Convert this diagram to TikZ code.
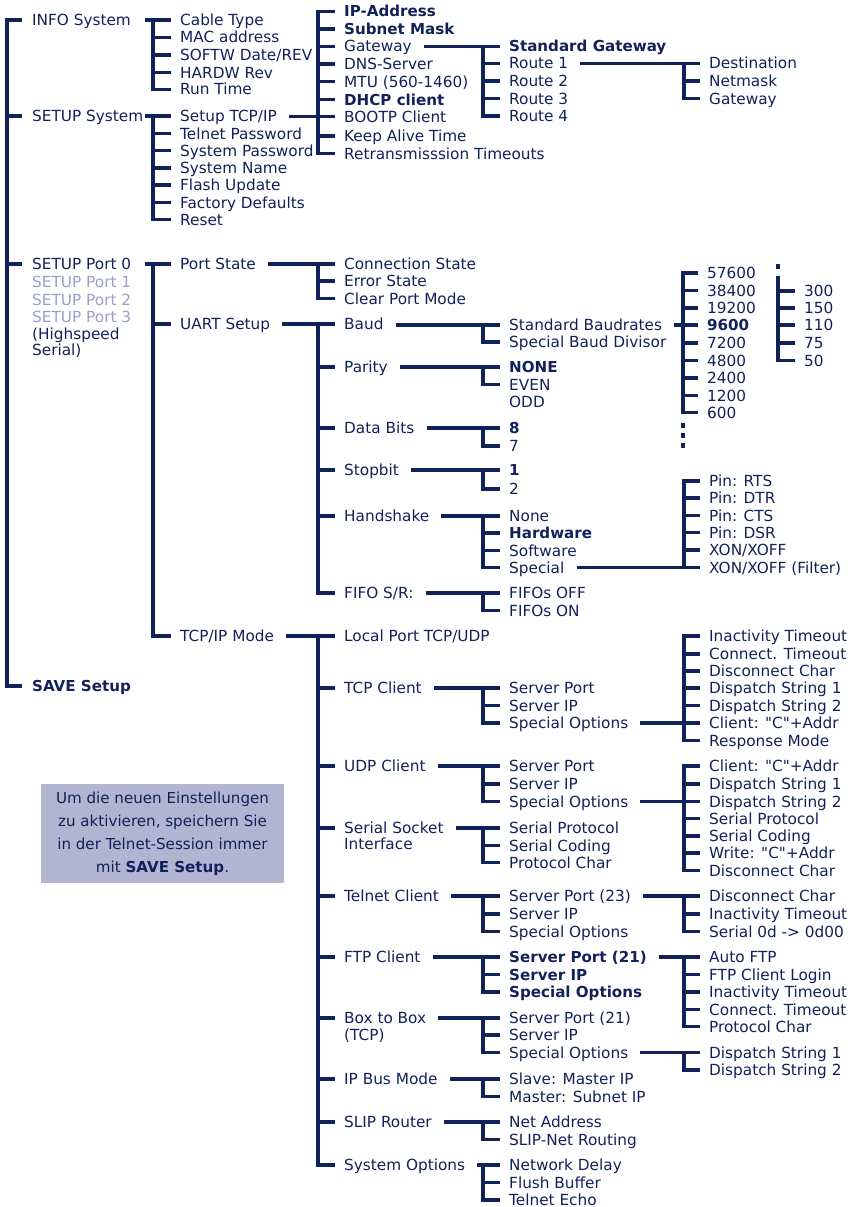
\documentclass[tikz,border=0pt]{standalone}
\usepackage{fontspec}
\setmainfont{DejaVu Sans}
\newfontfamily\dvs{DejaVu Sans}
\usetikzlibrary{calc}
\definecolor{navy}{HTML}{112159}
\definecolor{greyblue}{HTML}{9A9FC6}
\definecolor{boxfill}{HTML}{B1B5D1}
% branch whose horizontal starts just after the parent text
\newcommand\tbranch[6]{%
  \draw[conn] let \p2=(#3.west) in ([xshift=12pt]#1.east |- #3.west) -- ([xshift=-9pt]#3.west);
  \tbranchbody{#2}{#4}{#5}{#6}}
% branch whose horizontal starts just left of the trunk (T shape)
\newcommand\tbranchT[6]{%
  \draw[conn] let \p2=(#3.west) in (#2pt-8pt,\y2) -- ([xshift=-9pt]#3.west);
  \tbranchbody{#2}{#4}{#5}{#6}}
\newcommand\tbranchbody[4]{%
  \draw[conn] let \p1=(#2.west), \p2=(#3.west) in (#1pt,{\y1+1.6pt}) -- (#1pt,{\y2-1.6pt});
  \foreach \c in {#4} {\draw[conn] let \p1=(\c.west) in (#1pt,\y1) -- ([xshift=-9pt]\c.west);}}
\begin{document}
\begin{tikzpicture}[x=1pt,y=-1pt,
  lbl/.style={anchor=west, inner sep=0pt, text height=11pt, text depth=0pt, text=navy, font=\dvs\fontsize{15.3}{17}\selectfont},
  bl/.style={lbl, font=\dvs\fontsize{15.1}{17}\selectfont\bfseries},
  gl/.style={lbl, text=greyblue},
  conn/.style={draw=navy, line width=3.2pt}]
\useasboundingbox (0,0) rectangle (850,1207);
% column 0
\node[lbl] (info) at (32,20) {INFO System};
\node[lbl] (setsys) at (32,116) {SETUP System};
\node[lbl] (port0) at (32,264) {SETUP Port 0};
\node[gl] (port1) at (32,282) {SETUP Port 1};
\node[gl] (port2) at (32,299.5) {SETUP Port 2};
\node[gl] (port3) at (32,317) {SETUP Port 3};
\node[lbl] (hs1) at (32,334) {(Highspeed};
\node[lbl] (hs2) at (32,350) {Serial)};
\node[bl] (save) at (32,686) {SAVE Setup};
% column 1
\node[lbl] (cable) at (180,20) {Cable Type};
\node[lbl] (mac) at (180,37.5) {MAC address};
\node[lbl] (softw) at (180,55) {SOFTW Date/REV};
\node[lbl] (hardw) at (180,72.5) {HARDW Rev};
\node[lbl] (runtime) at (180,89.5) {Run Time};
\node[lbl] (stcp) at (180,116) {Setup TCP/IP};
\node[lbl] (telpw) at (180,133.5) {Telnet Password};
\node[lbl] (syspw) at (180,150.5) {System Password};
\node[lbl] (sysname) at (180,168) {System Name};
\node[lbl] (flash) at (180,185) {Flash Update};
\node[lbl] (factory) at (180,202.5) {Factory Defaults};
\node[lbl] (reset) at (180,219.5) {Reset};
\node[lbl] (portstate) at (180,264) {Port State};
\node[lbl] (uart) at (180,324) {UART Setup};
\node[lbl] (tcpmode) at (180,636) {TCP/IP Mode};
% column 2
\node[bl] (ipaddr) at (344,11.5) {IP-Address};
\node[bl] (subnet) at (344,29) {Subnet Mask};
\node[lbl] (gw) at (344,46.5) {Gateway};
\node[lbl] (dns) at (344,64) {DNS-Server};
\node[lbl] (mtu) at (344,81.5) {MTU (560-1460)};
\node[bl] (dhcp) at (344,99.5) {DHCP client};
\node[lbl] (bootp) at (344,116.5) {BOOTP Client};
\node[lbl] (keep) at (344,136) {Keep Alive Time};
\node[lbl] (retr) at (344,153.5) {Retransmisssion Timeouts};
\node[lbl] (connst) at (344,264) {Connection State};
\node[lbl] (err) at (344,281) {Error State};
\node[lbl] (clr) at (344,298.5) {Clear Port Mode};
\node[lbl] (baud) at (344,324) {Baud};
\node[lbl] (parity) at (344,367) {Parity};
\node[lbl] (databits) at (344,428) {Data Bits};
\node[lbl] (stopbit) at (344,470) {Stopbit};
\node[lbl] (hand) at (344,516) {Handshake};
\node[lbl] (fifo) at (344,593) {FIFO S/R:};
\node[lbl] (local) at (344,636) {Local Port TCP/UDP};
\node[lbl] (tcpc) at (344,688) {TCP Client};
\node[lbl] (udpc) at (344,766) {UDP Client};
\node[lbl] (ssock) at (344,828) {Serial Socket};
\node[lbl] (ssock2) at (344,843.5) {Interface};
\node[lbl] (telc) at (344,896) {Telnet Client};
\node[lbl] (ftpc) at (344,957) {FTP Client};
\node[lbl] (box) at (344,1018) {Box to Box};
\node[lbl] (box2) at (344,1035) {(TCP)};
\node[lbl] (ipbus) at (344,1079) {IP Bus Mode};
\node[lbl] (slip) at (344,1122) {SLIP Router};
\node[lbl] (sysopt) at (344,1165) {System Options};
% column 3
\node[bl] (stdgw) at (509,46.5) {Standard Gateway};
\node[lbl] (r1) at (509,63.5) {Route 1};
\node[lbl] (r2) at (509,81) {Route 2};
\node[lbl] (r3) at (509,98.5) {Route 3};
\node[lbl] (r4) at (509,116) {Route 4};
\node[lbl] (stdbaud) at (509,325) {Standard Baudrates};
\node[lbl] (spbaud) at (509,342) {Special Baud Divisor};
\node[bl] (none) at (509,367) {NONE};
\node[lbl] (even) at (509,384.5) {EVEN};
\node[lbl] (odd) at (509,402) {ODD};
\node[bl] (d8) at (509,428) {8};
\node[lbl] (d7) at (509,446) {7};
\node[bl] (s1) at (509,470) {1};
\node[lbl] (s2) at (509,489) {2};
\node[lbl] (hnone) at (509,516) {None};
\node[bl] (hhw) at (509,533) {Hardware};
\node[lbl] (hsw) at (509,550.5) {Software};
\node[lbl] (hsp) at (509,567.5) {Special};
\node[lbl] (foff) at (509,593) {FIFOs OFF};
\node[lbl] (fon) at (509,610.5) {FIFOs ON};
\node[lbl] (tsp) at (509,688) {Server Port};
\node[lbl] (tsip) at (509,705.5) {Server IP};
\node[lbl] (tsso) at (509,723) {Special Options};
\node[lbl] (usp) at (509,766) {Server Port};
\node[lbl] (usip) at (509,784) {Server IP};
\node[lbl] (usso) at (509,801.5) {Special Options};
\node[lbl] (sprot) at (509,828) {Serial Protocol};
\node[lbl] (scod) at (509,845.5) {Serial Coding};
\node[lbl] (pchar) at (509,862.5) {Protocol Char};
\node[lbl] (tlsp) at (509,896) {Server Port (23)};
\node[lbl] (tlsip) at (509,914) {Server IP};
\node[lbl] (tlso) at (509,931.5) {Special Options};
\node[bl] (fsp) at (509,957) {Server Port (21)};
\node[bl] (fsip) at (509,974.5) {Server IP};
\node[bl] (fso) at (509,992) {Special Options};
\node[lbl] (bsp) at (509,1018) {Server Port (21)};
\node[lbl] (bsip) at (509,1035) {Server IP};
\node[lbl] (bso) at (509,1052.5) {Special Options};
\node[lbl] (slave) at (509,1079) {Slave: Master IP};
\node[lbl] (master) at (509,1096.5) {Master: Subnet IP};
\node[lbl] (netaddr) at (509,1122) {Net Address};
\node[lbl] (sliprt) at (509,1139.5) {SLIP-Net Routing};
\node[lbl] (netdelay) at (509,1165) {Network Delay};
\node[lbl] (flush) at (509,1182.5) {Flush Buffer};
\node[lbl] (techo) at (509,1200) {Telnet Echo};
% column 4
\node[lbl] (dest) at (709,63.5) {Destination};
\node[lbl] (netmask) at (709,81) {Netmask};
\node[lbl] (gw2) at (709,98.5) {Gateway};
\node[lbl] (b57600) at (707,273) {57600};
\node[lbl] (b38400) at (707,290.5) {38400};
\node[lbl] (b19200) at (707,308) {19200};
\node[bl] (b9600) at (707,325) {9600};
\node[lbl] (b7200) at (707,343) {7200};
\node[lbl] (b4800) at (707,360.5) {4800};
\node[lbl] (b2400) at (707,378) {2400};
\node[lbl] (b1200) at (707,395.5) {1200};
\node[lbl] (b600) at (707,412.5) {600};
\node[lbl] (b300) at (804,291) {300};
\node[lbl] (b150) at (804,308) {150};
\node[lbl] (b110) at (804,325) {110};
\node[lbl] (b75) at (804,343) {75};
\node[lbl] (b50) at (804,360.5) {50};
\node[lbl] (pinrts) at (709,481) {Pin: RTS};
\node[lbl] (pindtr) at (709,498) {Pin: DTR};
\node[lbl] (pincts) at (709,515.5) {Pin: CTS};
\node[lbl] (pindsr) at (709,532.5) {Pin: DSR};
\node[lbl] (xon) at (709,550) {XON/XOFF};
\node[lbl] (xonf) at (709,567.5) {XON/XOFF (Filter)};
\node[lbl] (ti1) at (709,636) {Inactivity Timeout};
\node[lbl] (tct) at (709,654) {Connect. Timeout};
\node[lbl] (tdc) at (709,671) {Disconnect Char};
\node[lbl] (tds1) at (709,688) {Dispatch String 1};
\node[lbl] (tds2) at (709,705.5) {Dispatch String 2};
\node[lbl] (tcl) at (709,723) {Client: "C"+Addr};
\node[lbl] (trm) at (709,740.5) {Response Mode};
\node[lbl] (ucl) at (709,766) {Client: "C"+Addr};
\node[lbl] (uds1) at (709,784) {Dispatch String 1};
\node[lbl] (uds2) at (709,801.5) {Dispatch String 2};
\node[lbl] (usprot) at (709,818.5) {Serial Protocol};
\node[lbl] (uscod) at (709,836) {Serial Coding};
\node[lbl] (uwr) at (709,853) {Write: "C"+Addr};
\node[lbl] (udc) at (709,870.5) {Disconnect Char};
\node[lbl] (tdc2) at (709,896) {Disconnect Char};
\node[lbl] (tit) at (709,914) {Inactivity Timeout};
\node[lbl] (tser) at (709,931.5) {Serial 0d -> 0d00};
\node[lbl] (auto) at (709,957) {Auto FTP};
\node[lbl] (login) at (709,974.5) {FTP Client Login};
\node[lbl] (fit) at (709,992) {Inactivity Timeout};
\node[lbl] (fct) at (709,1009.5) {Connect. Timeout};
\node[lbl] (fpc) at (709,1026.5) {Protocol Char};
\node[lbl] (bds1) at (709,1052.5) {Dispatch String 1};
\node[lbl] (bds2) at (709,1070) {Dispatch String 2};
% note box
\node[fill=boxfill, minimum width=243pt, minimum height=99pt, inner sep=0pt, align=center,
      text=navy, font=\dvs\fontsize{15.1}{23}\selectfont] (note) at (162.5,833.5)
  {Um die neuen Einstellungen\\zu aktivieren, speichern Sie\\in der Telnet-Session immer\\mit \textbf{SAVE Setup}.};
% root trunk
\draw[conn] let \p1=(info.west), \p2=(save.west) in (7pt,{\y1+1.6pt}) -- (7pt,{\y2-1.6pt});
\foreach \c in {info,setsys,port0,save} {\draw[conn] let \p1=(\c.west) in (7pt,\y1) -- ([xshift=-10pt]\c.west);}
% branches
\tbranchT{info}{153}{cable}{cable}{runtime}{cable,mac,softw,hardw,runtime}
\tbranchT{setsys}{153}{stcp}{stcp}{reset}{stcp,telpw,syspw,sysname,flash,factory,reset}
\tbranch{stcp}{318}{bootp}{ipaddr}{retr}{ipaddr,subnet,gw,dns,mtu,dhcp,bootp,keep,retr}
\tbranch{gw}{483}{stdgw}{stdgw}{r4}{stdgw,r1,r2,r3,r4}
\tbranch{r1}{684}{dest}{dest}{gw2}{dest,netmask,gw2}
\tbranchT{port0}{153}{portstate}{portstate}{tcpmode}{portstate,uart,tcpmode}
\tbranch{portstate}{318}{connst}{connst}{clr}{connst,err,clr}
\tbranch{uart}{318}{baud}{baud}{fifo}{baud,parity,databits,stopbit,hand,fifo}
\tbranch{baud}{483}{stdbaud}{stdbaud}{spbaud}{stdbaud,spbaud}
\tbranch{stdbaud}{683}{b9600}{b57600}{b600}{b57600,b38400,b19200,b9600,b7200,b4800,b2400,b1200,b600}
\draw[conn] let \p1=(b300.west), \p2=(b50.west) in (778pt,{\y1+15pt}) -- (778pt,{\y2-1.6pt});
\draw[conn, dash pattern=on 5pt off 5pt] let \p1=(b300.west) in (778pt,{\y1+27pt}) -- (778pt,{\y1+17pt});
\foreach \c in {b300,b150,b110,b75,b50} {\draw[conn] let \p1=(\c.west) in (778pt,\y1) -- ([xshift=-9pt]\c.west);}
\draw[conn, dash pattern=on 5pt off 5pt] let \p1=(b600.west) in (683pt,{\y1-10pt}) -- (683pt,{\y1-35pt});
\tbranch{parity}{483}{none}{none}{even}{none,even}
\tbranch{databits}{483}{d8}{d8}{d7}{d8,d7}
\tbranch{stopbit}{483}{s1}{s1}{s2}{s1,s2}
\tbranch{hand}{483}{hnone}{hnone}{hsp}{hnone,hhw,hsw,hsp}
\tbranch{hsp}{684}{xonf}{pinrts}{xonf}{pinrts,pindtr,pincts,pindsr,xon,xonf}
\tbranch{fifo}{483}{foff}{foff}{fon}{foff,fon}
\tbranch{tcpmode}{318}{local}{local}{sysopt}{local,tcpc,udpc,ssock,telc,ftpc,box,ipbus,slip,sysopt}
\tbranch{tcpc}{483}{tsp}{tsp}{tsso}{tsp,tsip,tsso}
\tbranch{tsso}{684}{tcl}{ti1}{trm}{ti1,tct,tdc,tds1,tds2,tcl,trm}
\tbranch{udpc}{483}{usp}{usp}{usso}{usp,usip,usso}
\tbranch{usso}{684}{uds2}{ucl}{udc}{ucl,uds1,uds2,usprot,uscod,uwr,udc}
\tbranch{ssock}{483}{sprot}{sprot}{pchar}{sprot,scod,pchar}
\tbranch{telc}{483}{tlsp}{tlsp}{tlso}{tlsp,tlsip,tlso}
\tbranch{tlsp}{684}{tdc2}{tdc2}{tser}{tdc2,tit,tser}
\tbranch{ftpc}{483}{fsp}{fsp}{fso}{fsp,fsip,fso}
\tbranch{fsp}{684}{auto}{auto}{fpc}{auto,login,fit,fct,fpc}
\tbranch{box}{483}{bsp}{bsp}{bso}{bsp,bsip,bso}
\tbranch{bso}{684}{bds1}{bds1}{bds2}{bds1,bds2}
\tbranch{ipbus}{483}{slave}{slave}{master}{slave,master}
\tbranch{slip}{483}{netaddr}{netaddr}{sliprt}{netaddr,sliprt}
\tbranch{sysopt}{483}{netdelay}{netdelay}{techo}{netdelay,flush,techo}
\end{tikzpicture}
\end{document}
